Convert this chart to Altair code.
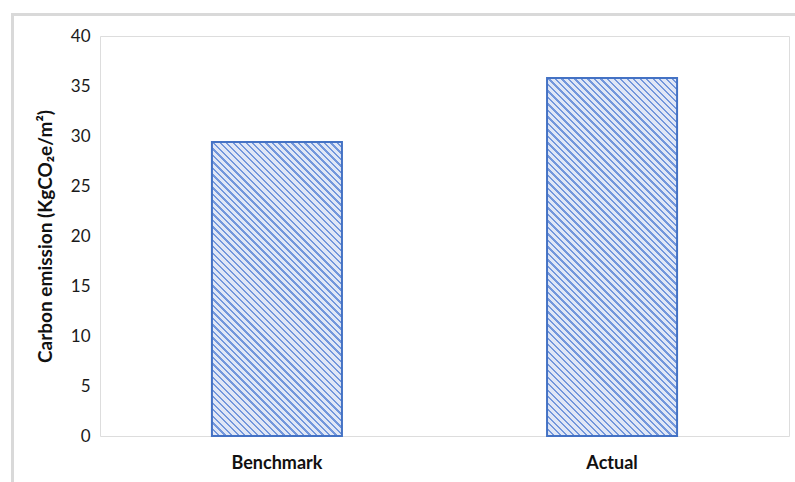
import altair as alt
import pandas as pd

# Carbon emission per floor area
categories = ["Benchmark", "Actual"]
emissions = [29.4, 35.8]
y_ticks = [0, 5, 10, 15, 20, 25, 30, 35, 40]

df = pd.DataFrame({"category": categories, "emission": emissions})

PLOT_W, PLOT_H = 689, 400
Y_MAX = 40
PAD_INNER, PAD_OUTER = 0.612, 0.334
STEP = PLOT_W / (len(categories) - PAD_INNER + 2 * PAD_OUTER)
BAR_W = STEP * (1 - PAD_INNER)

HATCH_DARK = "#7397dc"
HATCH_LIGHT = "#e0e7f6"
EDGE = "#4472c4"
FONT = "Lato"


def hatch(bar_height, period=6.5, dark_share=0.36):
    """Diagonal (top-left to bottom-right) hatch built from a striped linear gradient."""
    w, h = BAR_W, bar_height
    k = (w + h) / (w ** 2 + h ** 2)
    n = max(1, round((w + h) / period))
    stops = []
    for i in range(n):
        a, b, c = i / n, (i + dark_share) / n, (i + 1) / n
        stops += [
            alt.GradientStop(offset=a, color=HATCH_DARK),
            alt.GradientStop(offset=b, color=HATCH_DARK),
            alt.GradientStop(offset=b, color=HATCH_LIGHT),
            alt.GradientStop(offset=c, color=HATCH_LIGHT),
        ]
    return alt.LinearGradient(
        gradient="linear", stops=stops, x1=0, y1=1, x2=w * k, y2=1 - h * k
    )


x_enc = alt.X(
    "category:N",
    sort=categories,
    scale=alt.Scale(paddingInner=PAD_INNER, paddingOuter=PAD_OUTER),
    axis=alt.Axis(
        title=None,
        labelAngle=0,
        labelFont=FONT,
        labelFontSize=18,
        labelFontWeight="bold",
        labelColor="#111111",
        labelBaseline="middle",
        labelPadding=27,
        domain=False,
        ticks=False,
        grid=False,
    ),
)
y_enc = alt.Y(
    "emission:Q",
    scale=alt.Scale(domain=[0, Y_MAX], nice=False),
    axis=alt.Axis(
        title="Carbon emission (KgCO₂e/m²)",
        values=y_ticks,
        labelFont=FONT,
        labelFontSize=17,
        labelColor="#1a1a1a",
        labelPadding=10,
        titleFont=FONT,
        titleFontSize=19,
        titleFontWeight="bold",
        titleColor="#111111",
        titleAngle=270,
        titleX=-55,
        titleY=PLOT_H / 2,
        titleAlign="center",
        titleBaseline="middle",
        domain=False,
        ticks=False,
        grid=False,
    ),
)

bars = [
    alt.Chart(df)
    .transform_filter(alt.datum.category == cat)
    .mark_bar(
        fill=hatch(val / Y_MAX * PLOT_H),
        stroke=EDGE,
        strokeWidth=2,
    )
    .encode(x=x_enc, y=y_enc)
    for cat, val in zip(categories, emissions)
]

# light grey frame along the left and top of the figure
one = alt.Data(values=[{"k": 0}])
frame_left = alt.Chart(one).mark_rule(color="#d9d9d9", strokeWidth=3).encode(
    x=alt.value(-87.5), y=alt.value(-21.5), y2=alt.value(PLOT_H + 46)
)
frame_top = alt.Chart(one).mark_rule(color="#d9d9d9", strokeWidth=3).encode(
    y=alt.value(-21.5), x=alt.value(-89), x2=alt.value(PLOT_W + 6)
)

chart = (
    alt.layer(frame_left, frame_top, *bars)
    .properties(
        width=PLOT_W,
        height=PLOT_H,
        padding={"left": 100, "top": 36, "right": 6, "bottom": 46},
        autosize=alt.AutoSizeParams(type="none"),
    )
    .configure_view(stroke=None)
    .configure(background="white")
)

chart.save("out.html", embed_options={"renderer": "svg", "actions": False})
